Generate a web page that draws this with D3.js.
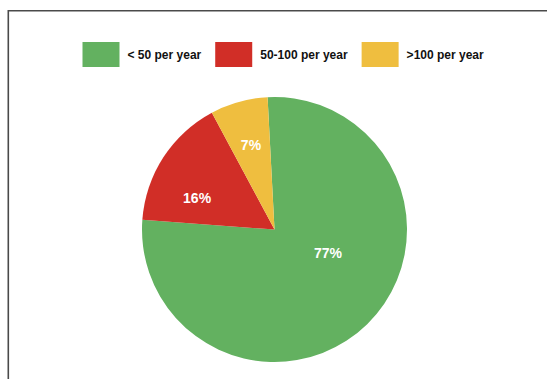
<!DOCTYPE html>
<html>
<head>
<meta charset="utf-8">
<script src="https://cdn.jsdelivr.net/npm/d3@7"></script>
<style>
  html, body { margin: 0; padding: 0; background: #fff; }
  svg { display: block; }
</style>
</head>
<body>
<svg id="chart" width="547" height="379"></svg>
<script>
// Share of entries by frequency band
const categories = ["< 50 per year", "50-100 per year", ">100 per year"];
const shares = [77, 16, 7];
const sliceColors = ["#63b160", "#d12e27", "#efbe3f"];

const W = 547, H = 379;
const svg = d3.select("#chart");

// Frame: top and left edges, running off the right and bottom of the canvas
svg.append("path")
  .attr("d", `M${W + 5},10.8 H8.3 V${H + 5}`)
  .attr("fill", "none")
  .attr("stroke", "#4a4a4a")
  .attr("stroke-width", 1.6);

// Legend
const legendFont = "bold 12px 'Liberation Sans', Arial, sans-serif";
const swW = 37, swH = 25, swGap = 8, itemGap = 14;
const measure = document.createElement("canvas").getContext("2d");
measure.font = legendFont;
const widths = categories.map(c => measure.measureText(c).width);
const totalW = d3.sum(widths) + categories.length * (swW + swGap) + (categories.length - 1) * itemGap;
let lx = 82.5;
const legend = svg.append("g");
categories.forEach((c, i) => {
  const g = legend.append("g").attr("transform", `translate(${lx},42)`);
  g.append("rect").attr("width", swW).attr("height", swH).attr("fill", sliceColors[i]);
  g.append("text")
    .attr("x", swW + swGap)
    .attr("y", swH / 2)
    .attr("dy", "0.35em")
    .style("font", legendFont)
    .attr("fill", "#111")
    .text(c);
  lx += swW + swGap + widths[i] + itemGap;
});

// Pie
const cx = 274.5, cy = 229.5, R = 132.5;
const rot = -3 * Math.PI / 180;
const pie = d3.pie().sort(null).startAngle(rot).endAngle(rot + 2 * Math.PI);
const arcs = pie(shares);
const arc = d3.arc().innerRadius(0).outerRadius(R);

const pg = svg.append("g").attr("transform", `translate(${cx},${cy})`);
pg.selectAll("path.slice")
  .data(arcs)
  .enter().append("path")
  .attr("class", "slice")
  .attr("d", arc)
  .attr("fill", (d, i) => sliceColors[i]);

// Slice labels: radius as a fraction of R, and a small angular shift (degrees)
const labelPlacement = [
  { rf: 0.44, shift: -22 },
  { rf: 0.63, shift: -11 },
  { rf: 0.66, shift: 0 }
];
pg.selectAll("text.pct")
  .data(arcs)
  .enter().append("text")
  .attr("class", "pct")
  .attr("transform", (d, i) => {
    const p = labelPlacement[i];
    const a = (d.startAngle + d.endAngle) / 2 + p.shift * Math.PI / 180;
    const r = p.rf * R;
    return `translate(${r * Math.sin(a)},${-r * Math.cos(a)})`;
  })
  .attr("text-anchor", "middle")
  .attr("dy", "0.35em")
  .style("font", "bold 14px 'Liberation Sans', Arial, sans-serif")
  .attr("fill", "#fff")
  .text(d => d.data + "%");
</script>
</body>
</html>
